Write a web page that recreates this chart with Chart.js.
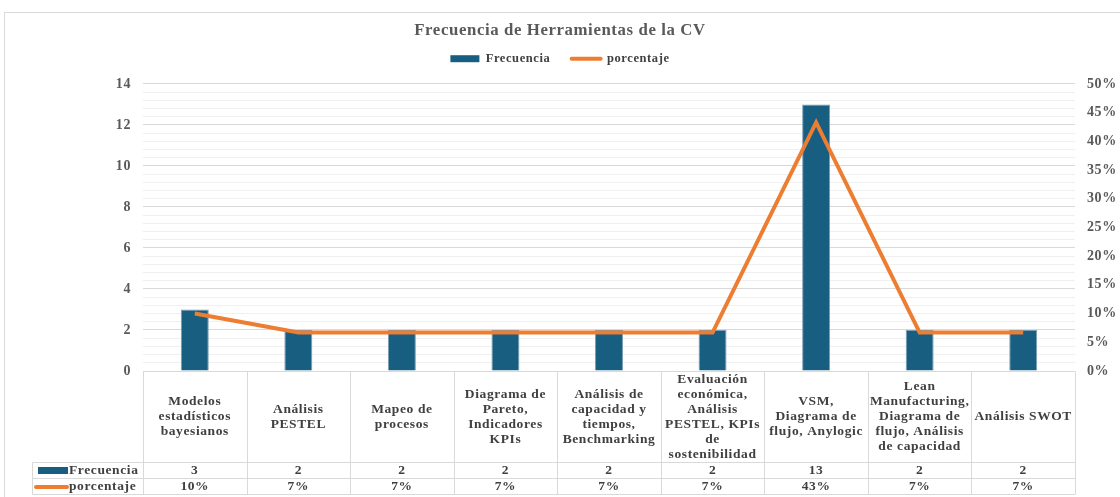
<!DOCTYPE html>
<html><head><meta charset="utf-8">
<script src="https://cdn.jsdelivr.net/npm/chart.js@4"></script>
<style>html,body{margin:0;padding:0;background:#fff;}#wrap{position:relative;width:1120px;height:497px;}</style>
</head><body><div id="wrap"><canvas id="c" width="1120" height="497"></canvas></div>
<script>
const categories = [
  ["Modelos","estadísticos","bayesianos"],
  ["Análisis","PESTEL"],
  ["Mapeo de","procesos"],
  ["Diagrama de","Pareto,","Indicadores","KPIs"],
  ["Análisis de","capacidad y","tiempos,","Benchmarking"],
  ["Evaluación","económica,","Análisis","PESTEL, KPIs","de","sostenibilidad"],
  ["VSM,","Diagrama de","flujo, Anylogic"],
  ["Lean","Manufacturing,","Diagrama de","flujo, Análisis","de capacidad"],
  ["Análisis SWOT"]
];
const frecuencia = [3, 2, 2, 2, 2, 2, 13, 2, 2];
const porcentaje = [10, 6.7, 6.7, 6.7, 6.7, 6.7, 43.3, 6.7, 6.7];
const porcentajeLabels = ["10%","7%","7%","7%","7%","7%","43%","7%","7%"];
const seriesNames = ["Frecuencia", "porcentaje"];
const titleText = "Frecuencia de Herramientas de la CV";

const BLUE = '#175e80', ORANGE = '#ED7D31', GRID = '#d9d9d9', TXT = '#404040', AX = '#595959';
const SERIF = '"Liberation Serif","Times New Roman",serif';

const tablePlugin = {
  id: 'tablePlugin',
  beforeInit(chart) {
    const spacer = {
      position: 'top', weight: 0, fullSize: true, options: {},
      left: 0, top: 0, right: 0, bottom: 0, width: 0, height: 0,
      isHorizontal() { return true; },
      update(maxWidth) { this.width = maxWidth; this.height = 9; },
      draw() {}
    };
    Chart.layouts.addBox(chart, spacer);
  },
  beforeLayout(chart) { chart.ctx.letterSpacing = '0.6px'; },
  beforeDraw(chart) {
    const ctx = chart.ctx;
    ctx.letterSpacing = '0.6px';
    ctx.save();
    ctx.strokeStyle = '#d9d9d9';
    ctx.lineWidth = 1;
    ctx.strokeRect(4.5, 12.5, 1130, 520);
    ctx.restore();
  },
  afterDraw(chart) {
    const ctx = chart.ctx, xs = chart.scales.x, ca = chart.chartArea;
    const n = categories.length, w = (ca.right - ca.left) / n;
    const top = Math.round(ca.bottom) + 0.5, r1 = 462.5, r2 = 478.5, r3 = 494.5, legL = 32.5;
    ctx.save();
    ctx.strokeStyle = GRID; ctx.lineWidth = 1;
    ctx.beginPath();
    ctx.moveTo(ca.left, top); ctx.lineTo(ca.right, top);
    ctx.moveTo(legL, r1); ctx.lineTo(ca.right, r1);
    ctx.moveTo(legL, r2); ctx.lineTo(ca.right, r2);
    ctx.moveTo(legL, r3); ctx.lineTo(ca.right, r3);
    ctx.moveTo(legL, r1); ctx.lineTo(legL, r3);
    for (let i = 0; i <= n; i++) {
      const x = Math.round(ca.left + i * w) + 0.5;
      ctx.moveTo(x, top); ctx.lineTo(x, r3);
    }
    ctx.stroke();
    ctx.letterSpacing = '0.6px';
    ctx.fillStyle = TXT; ctx.textAlign = 'center'; ctx.textBaseline = 'middle';
    ctx.font = 'bold 13.5px ' + SERIF;
    const lh = 15, cy = (top + r1) / 2;
    categories.forEach((lines, i) => {
      const x = xs.getPixelForValue(i);
      const y0 = cy - (lines.length - 1) * lh / 2;
      lines.forEach((t, k) => ctx.fillText(t, x, y0 + k * lh));
      ctx.fillText(String(frecuencia[i]), x, (r1 + r2) / 2 + 0.5);
      ctx.fillText(porcentajeLabels[i], x, (r2 + r3) / 2 + 0.5);
    });
    // legend keys
    ctx.fillStyle = BLUE; ctx.fillRect(38, 467, 30, 7);
    ctx.strokeStyle = ORANGE; ctx.lineWidth = 4; ctx.lineCap = 'round';
    ctx.beginPath(); ctx.moveTo(36, 487); ctx.lineTo(67, 487); ctx.stroke();
    ctx.fillStyle = TXT; ctx.textAlign = 'left';
    ctx.fillText(seriesNames[0], 69, (r1 + r2) / 2 + 0.5);
    ctx.fillText(seriesNames[1], 69, (r2 + r3) / 2 + 0.5);
    ctx.restore();
  }
};

new Chart(document.getElementById('c'), {
  data: {
    labels: categories.map(c => c.join(' ')),
    datasets: [
      { type: 'line', label: seriesNames[1], data: porcentaje, yAxisID: 'y1', borderColor: ORANGE, backgroundColor: ORANGE,
        borderWidth: 4, pointRadius: 0, tension: 0, order: 0, borderCapStyle: 'butt', borderJoinStyle: 'miter' },
      { type: 'bar', label: seriesNames[0], data: frecuencia, yAxisID: 'y', backgroundColor: BLUE,
        borderColor: '#7a9db1', borderWidth: { top: 1, left: 1, right: 1, bottom: 0 }, borderSkipped: false,
        barPercentage: 0.27, categoryPercentage: 1, order: 1 }
    ]
  },
  options: {
    responsive: false, animation: false,
    layout: { padding: { top: 0, bottom: 118, left: 0, right: 0 } },
    plugins: {
      title: { display: true, text: titleText, color: AX, font: { family: SERIF, size: 16.8, weight: 'bold' }, padding: { top: 21, bottom: -6.2 } },
      legend: {
        display: true, reverse: true,
        labels: {
          usePointStyle: true, pointStyleWidth: 29, boxWidth: 29, boxHeight: 7, color: TXT, padding: 17.5,
          font: { family: SERIF, size: 12.5, weight: 'bold' },
          generateLabels(chart) {
            return chart.data.datasets.map((d, i) => ({
              text: d.type === 'line' ? d.label : d.label + ' ', datasetIndex: i, fillStyle: BLUE, strokeStyle: d.type === 'line' ? ORANGE : BLUE,
              lineWidth: d.type === 'line' ? 4 : 0, pointStyle: d.type === 'line' ? 'line' : 'rect', lineCap: 'round', fontColor: TXT
            }));
          }
        }
      },
      tooltip: { enabled: false }
    },
    scales: {
      x: { type: 'category', offset: true, ticks: { display: false }, grid: { display: false }, border: { display: false } },
      y: {
        position: 'left', min: 0, max: 14,
        afterFit(s) { s.width = 143; },
        ticks: { stepSize: 0.4, autoSkip: false, color: AX, padding: 12, font: { family: SERIF, size: 14, weight: 'bold' },
          callback(v) { return Math.abs(v / 2 - Math.round(v / 2)) < 1e-6 ? String(Math.round(v)) : ''; } },
        grid: { drawTicks: false, color(ctx) { const v = ctx.tick.value; return Math.abs(v / 2 - Math.round(v / 2)) < 1e-6 ? '#d9d9d9' : '#f0f0f0'; } },
        border: { display: false }
      },
      y1: {
        position: 'right', min: 0, max: 50,
        afterFit(s) { s.width = 45; },
        ticks: { stepSize: 5, autoSkip: false, color: AX, padding: 12, font: { family: SERIF, size: 14, weight: 'bold' }, callback(v) { return v + '%'; } },
        grid: { display: false, drawTicks: false }, border: { display: false }
      }
    }
  },
  plugins: [tablePlugin]
});
</script></body></html>
